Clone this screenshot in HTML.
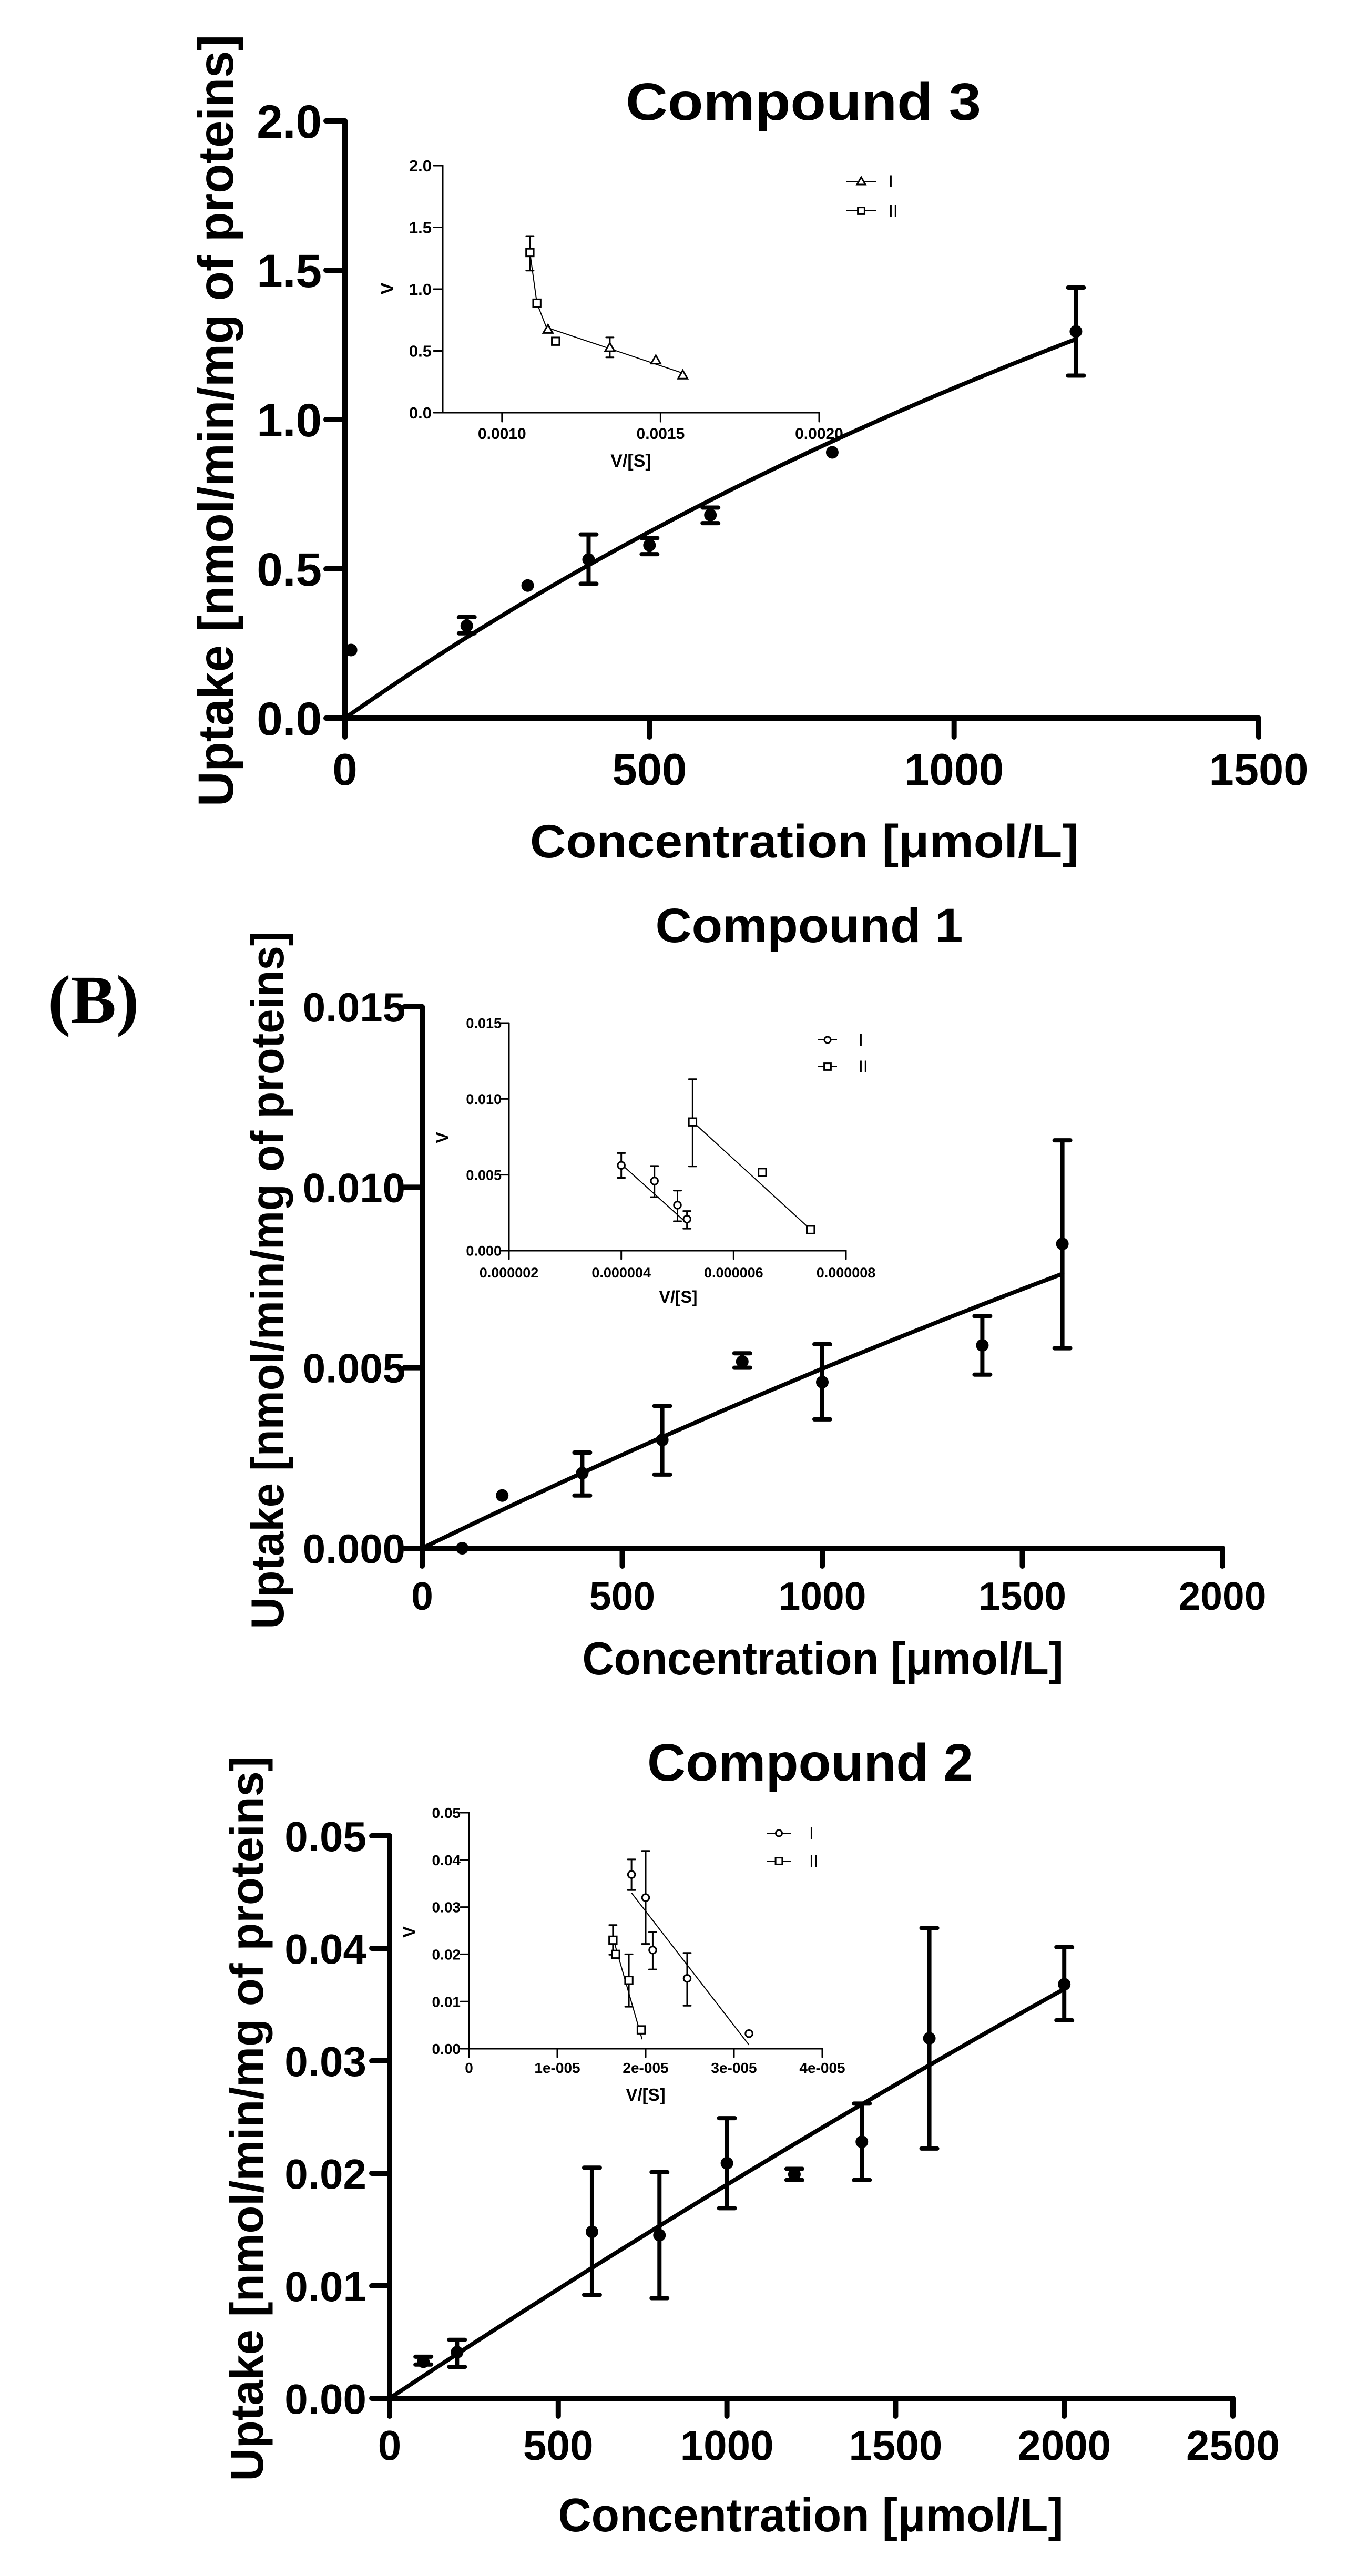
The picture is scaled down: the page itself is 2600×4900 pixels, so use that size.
<!DOCTYPE html>
<html><head><meta charset="utf-8"><style>
html,body{margin:0;padding:0;background:#fff;}
svg{display:block;font-family:"Liberation Sans",Arial,sans-serif;font-weight:bold;}
</style></head><body>
<svg id="fig" xmlns="http://www.w3.org/2000/svg" width="2600" height="4900" viewBox="0 0 2600 4900">
<rect width="2600" height="4900" fill="#fff"/>
<text x="91" y="1945" font-family="Liberation Serif, serif" font-size="130" font-weight="bold">(B)</text>

<text x="1528" y="228" font-size="100" text-anchor="middle" textLength="676" lengthAdjust="spacingAndGlyphs">Compound 3</text>
<text transform="translate(443,800) rotate(-90)" font-size="95" text-anchor="middle" textLength="1468" lengthAdjust="spacingAndGlyphs">Uptake [nmol/min/mg of proteins]</text>
<text x="1530" y="1631" font-size="89" text-anchor="middle" textLength="1044" lengthAdjust="spacingAndGlyphs">Concentration [μmol/L]</text>
<text x="1200" y="888" font-size="34" text-anchor="middle">V/[S]</text>
<text transform="translate(748,549) rotate(-90)" font-size="34" text-anchor="middle">V</text>

<text x="1539" y="1792" font-size="92" text-anchor="middle" textLength="585" lengthAdjust="spacingAndGlyphs">Compound 1</text>
<text transform="translate(539,2435) rotate(-90)" font-size="88" text-anchor="middle" textLength="1327" lengthAdjust="spacingAndGlyphs">Uptake [nmol/min/mg of proteins]</text>
<text x="1565" y="3185" font-size="88" text-anchor="middle" textLength="915" lengthAdjust="spacingAndGlyphs">Concentration [μmol/L]</text>
<text x="1290" y="2478" font-size="32" text-anchor="middle">V/[S]</text>
<text transform="translate(852,2164) rotate(-90)" font-size="32" text-anchor="middle">V</text>

<text x="1541" y="3387" font-size="100" text-anchor="middle" textLength="620" lengthAdjust="spacingAndGlyphs">Compound 2</text>
<text transform="translate(500,4030) rotate(-90)" font-size="88" text-anchor="middle" textLength="1379" lengthAdjust="spacingAndGlyphs">Uptake [nmol/min/mg of proteins]</text>
<text x="1542" y="4815" font-size="90" text-anchor="middle" textLength="961" lengthAdjust="spacingAndGlyphs">Concentration [μmol/L]</text>
<text x="1228" y="3996" font-size="33" text-anchor="middle">V/[S]</text>
<text transform="translate(789,3675) rotate(-90)" font-size="33" text-anchor="middle">V</text>
</svg>
<script>
// ===== Compound 3 main data =====
const c3Conc=[10,200,300,400,500,600,800,1200];
const c3Uptake=[0.228,0.309,0.444,0.531,0.579,0.680,0.890,1.295];
const c3Hi=[null,0.338,null,0.615,0.603,0.705,null,1.442];
const c3Lo=[null,0.284,null,0.450,0.549,0.653,null,1.147];
const c3Fit=[4.85,3386,1200];
const c3XTicks=[0,500,1000,1500];
const c3XTickLabels=["0","500","1000","1500"];
const c3YTicks=[0,0.5,1.0,1.5,2.0];
const c3YTickLabels=["0.0","0.5","1.0","1.5","2.0"];
// Compound 3 inset
const c3InIx=[0.001145,0.00134,0.001485,0.00157];
const c3InIy=[0.674,0.526,0.426,0.304];
const c3InIhi=[null,0.609,null,null];
const c3InIlo=[null,0.448,null,null];
const c3InIIx=[0.001088,0.00111,0.001169];
const c3InIIy=[1.296,0.887,0.578];
const c3InIIhi=[1.43,null,null];
const c3InIIlo=[1.15,null,null];
const c3InLineIx=[0.00114,0.00157];
const c3InLineIy=[0.69,0.32];
const c3InLineIIx=[0.001088,0.00111,0.00114];
const c3InLineIIy=[1.296,0.887,0.69];
const c3InXTicks=[0.0010,0.0015,0.0020];
const c3InXTickLabels=["0.0010","0.0015","0.0020"];
const c3InYTicks=[0,0.5,1.0,1.5,2.0];
const c3InYTickLabels=["0.0","0.5","1.0","1.5","2.0"];

// ===== Compound 1 main data =====
const c1Conc=[100,200,400,600,800,1000,1400,1600];
const c1Uptake=[0.0,0.00146,0.00208,0.0030,0.00517,0.0046,0.00562,0.00843];
const c1Hi=[null,null,0.00265,0.00394,0.0054,0.00565,0.00643,0.0113];
const c1Lo=[null,null,0.00146,0.00204,0.0050,0.00357,0.00481,0.00554];
const c1Fit=[0.0639,11850,1600];
const c1XTicks=[0,500,1000,1500,2000];
const c1XTickLabels=["0","500","1000","1500","2000"];
const c1YTicks=[0,0.005,0.010,0.015];
const c1YTickLabels=["0.000","0.005","0.010","0.015"];
// Compound 1 inset
const c1InIx=[0.0000040,0.00000459,0.0000050,0.00000517];
const c1InIy=[0.00562,0.00459,0.0030,0.00208];
const c1InIhi=[0.00643,0.00558,0.00396,0.00261];
const c1InIlo=[0.0048,0.00353,0.00194,0.00145];
const c1InIIx=[0.00000527,0.00000651,0.00000737];
const c1InIIy=[0.00848,0.00516,0.00138];
const c1InIIhi=[0.0113,null,null];
const c1InIIlo=[0.00555,null,null];
const c1InLineIx=[0.0000040,0.00000517];
const c1InLineIy=[0.0057,0.0018];
const c1InLineIIx=[0.00000527,0.00000737];
const c1InLineIIy=[0.0085,0.0014];
const c1InXTicks=[0.000002,0.000004,0.000006,0.000008];
const c1InXTickLabels=["0.000002","0.000004","0.000006","0.000008"];
const c1InYTicks=[0,0.005,0.010,0.015];
const c1InYTickLabels=["0.000","0.005","0.010","0.015"];

// ===== Compound 2 main data =====
const c2Conc=[100,200,600,800,1000,1200,1400,1600,2000];
const c2Uptake=[0.00325,0.0041,0.0148,0.0145,0.0209,0.0199,0.0228,0.032,0.0368];
const c2Hi=[0.0037,0.0052,0.0205,0.0201,0.0249,0.0204,0.0262,0.0418,0.0401];
const c2Lo=[0.0030,0.0028,0.0092,0.0089,0.0169,0.0194,0.0194,0.0222,0.0336];
const c2Fit=[0.433,21800,2000];
const c2XTicks=[0,500,1000,1500,2000,2500];
const c2XTickLabels=["0","500","1000","1500","2000","2500"];
const c2YTicks=[0,0.01,0.02,0.03,0.04,0.05];
const c2YTickLabels=["0.00","0.01","0.02","0.03","0.04","0.05"];
// Compound 2 inset
const c2InIx=[0.0000184,0.0000200,0.0000208,0.0000247,0.0000317];
const c2InIy=[0.0369,0.032,0.0209,0.0149,0.0032];
const c2InIhi=[0.0401,0.0419,0.0247,0.0203,null];
const c2InIlo=[0.0336,0.0222,0.0168,0.0091,null];
const c2InIIx=[0.0000163,0.0000166,0.0000181,0.0000195];
const c2InIIy=[0.023,0.020,0.0145,0.004];
const c2InIIhi=[0.0262,null,0.020,0.0045];
const c2InIIlo=[0.0199,null,0.0089,0.0032];
const c2InLineIx=[0.0000184,0.0000317];
const c2InLineIy=[0.033,0.0008];
const c2InLineIIx=[0.0000163,0.0000196];
const c2InLineIIy=[0.0235,0.002];
const c2InXTicks=[0,0.00001,0.00002,0.00003,0.00004];
const c2InXTickLabels=["0","1e-005","2e-005","3e-005","4e-005"];
const c2InYTicks=[0,0.01,0.02,0.03,0.04,0.05];
const c2InYTickLabels=["0.00","0.01","0.02","0.03","0.04","0.05"];

const NS="http://www.w3.org/2000/svg";
const svg=document.getElementById('fig');
function mk(tag,attrs,parent){const e=document.createElementNS(NS,tag);for(const k in attrs)e.setAttribute(k,attrs[k]);(parent||svg).appendChild(e);return e;}
function lin(d0,d1,p0,p1){return v=>p0+(v-d0)/(d1-d0)*(p1-p0);}

function drawAxes(L,xt,xl,yt,yl,pre){
  const sx=lin(L.xmin,L.xmax,L.x0,L.x1), sy=lin(0,L.ymax,L.yB,L.yT);
  const g=mk('g',{});
  
  
  const ax=mk('line',{x1:L.x0,y1:L.yB,x2:L.x1,y2:L.yB,stroke:'#000','stroke-width':L.sw,'stroke-linecap':'round'},g);
  
  
  const ay=mk('line',{x1:L.x0,y1:L.yB,x2:L.x0,y2:L.yT,stroke:'#000','stroke-width':L.sw,'stroke-linecap':'round'},g);
  
  
  xt.forEach((v,i)=>{
    const x=sx(v);
    mk('line',{x1:x,y1:L.yB,x2:x,y2:L.yB+L.tl,stroke:'#000','stroke-width':L.sw,'stroke-linecap':'round'},g);
    const t=mk('text',{x:x,y:L.xBase,'font-size':L.xf,'text-anchor':'middle'},g);
    
    
    t.textContent=xl[i];
  });
  yt.forEach((v,i)=>{
    const y=sy(v);
    mk('line',{x1:L.x0,y1:y,x2:L.x0-L.tl,y2:y,stroke:'#000','stroke-width':L.sw,'stroke-linecap':'round'},g);
    const t=mk('text',{x:L.yRight,y:y+L.yf*0.36,'font-size':L.yf,'text-anchor':'end'},g);
    
    
    t.textContent=yl[i];
  });
  return [sx,sy];
}

function errBars(g,sx,sy,xs,hi,lo,cw,sw,pre){
  xs.forEach((v,i)=>{
    if(hi[i]==null) return;
    const x=sx(v);
    const e=mk('path',{d:`M${x},${sy(hi[i])}V${sy(lo[i])}M${x-cw},${sy(hi[i])}H${x+cw}M${x-cw},${sy(lo[i])}H${x+cw}`,stroke:'#000','stroke-width':sw,fill:'none','stroke-linecap':'round'},g);
    
    
  });
}

function mainPanel(L,conc,up,hi,lo,fit,xt,xl,yt,yl,pre){
  const [sx,sy]=drawAxes(L,xt,xl,yt,yl,pre);
  const g=mk('g',{});
  
  
  let d='';
  for(let i=0;i<=80;i++){const x=fit[2]*i/80;const y=fit[0]*x/(fit[1]+x);d+=(i?'L':'M')+sx(x).toFixed(1)+','+sy(y).toFixed(1);}
  const fl=mk('path',{d:d,stroke:'#000','stroke-width':8,fill:'none','stroke-linecap':'round'},g);
  
  
  errBars(g,sx,sy,conc,hi,lo,15,8,pre);
  conc.forEach((v,i)=>{
    const c=mk('circle',{cx:sx(v),cy:sy(up[i]),r:12,fill:'#000'},g);
    
    
  });
}

function marker(g,type,x,y,s){
  let m;
  if(type==='tri') m=mk('path',{d:`M${x},${y-s}L${x+s},${y+s*0.75}L${x-s},${y+s*0.75}Z`,fill:'#fff',stroke:'#000','stroke-width':3},g);
  else if(type==='sq') m=mk('rect',{x:x-s*0.8,y:y-s*0.8,width:s*1.6,height:s*1.6,fill:'#fff',stroke:'#000','stroke-width':3},g);
  else m=mk('circle',{cx:x,cy:y,r:s*0.75,fill:'#fff',stroke:'#000','stroke-width':3},g);
  return m;
}

function insetPanel(L,sI,sII,Ix,Iy,Ihi,Ilo,IIx,IIy,IIhi,IIlo,lIx,lIy,lIIx,lIIy,xt,xl,yt,yl,leg,pre){
  const [sx,sy]=drawAxes(L,xt,xl,yt,yl,pre);
  const g=mk('g',{});
  
  
  const pl=(xs,ys)=>xs.map((v,i)=>(i?'L':'M')+sx(v)+','+sy(ys[i])).join('');
  const a=mk('path',{d:pl(lIx,lIy),stroke:'#000','stroke-width':2,fill:'none'},g);
  
  
  const b=mk('path',{d:pl(lIIx,lIIy),stroke:'#000','stroke-width':2,fill:'none'},g);
  
  
  errBars(g,sx,sy,Ix,Ihi,Ilo,7,3,pre);
  errBars(g,sx,sy,IIx,IIhi,IIlo,7,3,pre);
  Ix.forEach((v,i)=>{const m=marker(g,sI,sx(v),sy(Iy[i]),9);
    
    });
  IIx.forEach((v,i)=>{const m=marker(g,sII,sx(v),sy(IIy[i]),9);
    
    });
  [[sI,'I',leg.y1],[sII,'II',leg.y2]].forEach(r=>{
    const lg=mk('g',{},svg);
    
    
    mk('line',{x1:leg.x1,y1:r[2],x2:leg.x2,y2:r[2],stroke:'#000','stroke-width':2},lg);
    marker(lg,r[0],(leg.x1+leg.x2)/2,r[2],8);
    const t=mk('text',{x:leg.tx,y:r[2]+11,'font-size':32,'font-weight':'normal'},lg);
    t.textContent=r[1];
  });
}

mainPanel({x0:656,x1:2394,xmin:0,xmax:1500,yB:1366,yT:230,ymax:2.0,sw:10,tl:36,xBase:1493,xf:85,yRight:612,yf:89},
  c3Conc,c3Uptake,c3Hi,c3Lo,c3Fit,c3XTicks,c3XTickLabels,c3YTicks,c3YTickLabels,'compound-3');
insetPanel({x0:842,x1:1558,xmin:0.000813,xmax:0.0020,yB:785,yT:315,ymax:2.0,sw:3,tl:17,xBase:835,xf:30,yRight:821,yf:31},
  'tri','sq',c3InIx,c3InIy,c3InIhi,c3InIlo,c3InIIx,c3InIIy,c3InIIhi,c3InIIlo,c3InLineIx,c3InLineIy,c3InLineIIx,c3InLineIIy,
  c3InXTicks,c3InXTickLabels,c3InYTicks,c3InYTickLabels,{x1:1609,x2:1667,tx:1690,y1:345,y2:401},'compound-3-inset');

mainPanel({x0:803,x1:2325,xmin:0,xmax:2000,yB:2945,yT:1915,ymax:0.015,sw:10,tl:34,xBase:3062,xf:75,yRight:771,yf:78},
  c1Conc,c1Uptake,c1Hi,c1Lo,c1Fit,c1XTicks,c1XTickLabels,c1YTicks,c1YTickLabels,'compound-1');
insetPanel({x0:968,x1:1609,xmin:0.000002,xmax:0.000008,yB:2379,yT:1946,ymax:0.015,sw:3,tl:16,xBase:2430,xf:27,yRight:954,yf:27},
  'circ','sq',c1InIx,c1InIy,c1InIhi,c1InIlo,c1InIIx,c1InIIy,c1InIIhi,c1InIIlo,c1InLineIx,c1InLineIy,c1InLineIIx,c1InLineIIy,
  c1InXTicks,c1InXTickLabels,c1InYTicks,c1InYTickLabels,{x1:1556,x2:1592,tx:1633,y1:1978,y2:2029},'compound-1-inset');

mainPanel({x0:741,x1:2345,xmin:0,xmax:2500,yB:4562,yT:3492,ymax:0.05,sw:10,tl:34,xBase:4679,xf:80,yRight:697,yf:80},
  c2Conc,c2Uptake,c2Hi,c2Lo,c2Fit,c2XTicks,c2XTickLabels,c2YTicks,c2YTickLabels,'compound-2');
insetPanel({x0:892,x1:1564,xmin:0,xmax:0.00004,yB:3897,yT:3448,ymax:0.05,sw:3,tl:16,xBase:3943,xf:28,yRight:876,yf:28},
  'circ','sq',c2InIx,c2InIy,c2InIhi,c2InIlo,c2InIIx,c2InIIy,c2InIIhi,c2InIIlo,c2InLineIx,c2InLineIy,c2InLineIIx,c2InLineIIy,
  c2InXTicks,c2InXTickLabels,c2InYTicks,c2InYTickLabels,{x1:1458,x2:1505,tx:1539,y1:3487,y2:3540},'compound-2-inset');
</script>
</body></html>
